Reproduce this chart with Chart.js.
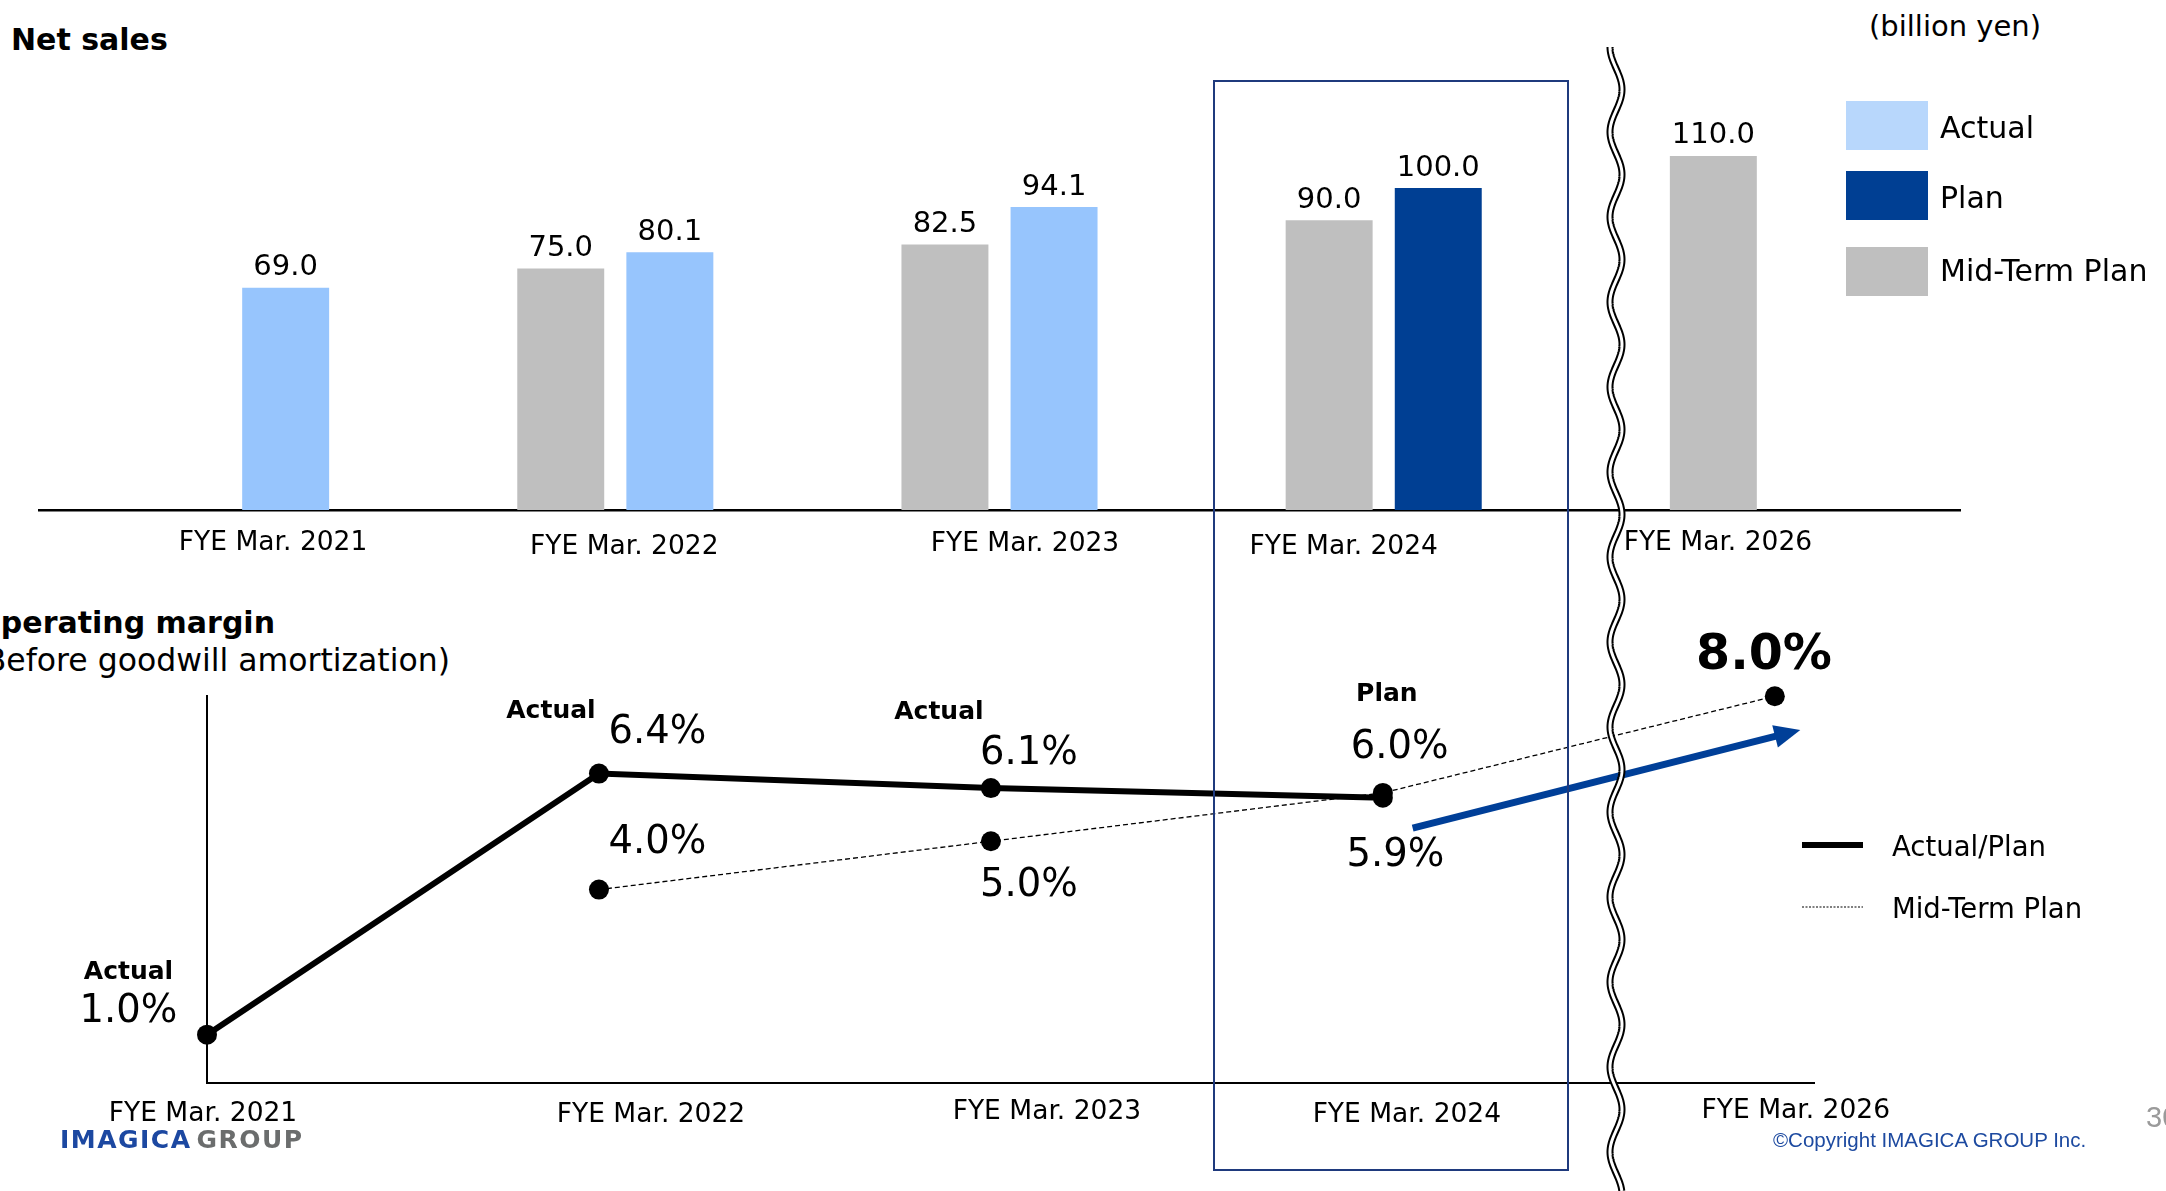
<!DOCTYPE html>
<html>
<head>
<meta charset="utf-8">
<title>Net sales / Operating margin</title>
<script src="https://cdn.jsdelivr.net/npm/chart.js@4.4.0/dist/chart.umd.min.js"></script>
<style>
  html, body { margin: 0; padding: 0; background: #fff; }
  #page { position: relative; width: 2166px; height: 1191px; overflow: hidden; background: #fff;
          font-family: "DejaVu Sans", Verdana, sans-serif; color: #000; }
  #page canvas { position: absolute; left: 0; }
  #salesChart { top: 0; }
  #marginChart { top: 560px; }
  #overlay { top: 0; pointer-events: none; }
  .txt { position: absolute; white-space: nowrap; line-height: 1; transform: translateY(-50%); }
  .bold { font-weight: bold; }
  #focusBox { position: absolute; left: 1213px; top: 80px; width: 356px; height: 1091px;
              border: 2px solid #1f3a7d; box-sizing: border-box; pointer-events: none; }
  .logo { font-weight: bold; font-size: 25px; letter-spacing: 1.5px; }
  .copy { font-family: "Liberation Sans", Arial, sans-serif; font-size: 20.5px; color: #1d4aa0; }
  .pageNo { font-family: "Liberation Sans", Arial, sans-serif; font-size: 29px; color: #9a9a9a; }
</style>
</head>
<body>
<div id="page">
  <div class="txt bold" style="left:11px; top:40px; font-size:30px;">Net sales</div>
  <div class="txt" style="left:1869px; top:26px; font-size:29px;">(billion yen)</div>
  <div class="txt bold" style="right:1891px; top:623px; font-size:30px;">Operating margin</div>
  <div class="txt" style="right:1716px; top:661px; font-size:31.5px;">(Before goodwill amortization)</div>

  <canvas id="salesChart" width="2166" height="560"></canvas>
  <canvas id="marginChart" width="2166" height="631"></canvas>
  <canvas id="overlay" width="2166" height="1191"></canvas>
  <div id="focusBox"></div>

  <div class="txt logo" style="left:60px; top:1139px;"><span style="color:#1c48a1;">IMAGICA</span><span style="color:#6b6d6d; margin-left:5px;">GROUP</span></div>
  <div class="txt copy" style="left:1773px; top:1140px;">©Copyright IMAGICA GROUP Inc.</div>
  <div class="txt pageNo" style="left:2146px; top:1117px;">30</div>
</div>

<script>
// Fiscal years shown on both charts
const categories = ['FYE Mar. 2021', 'FYE Mar. 2022', 'FYE Mar. 2023', 'FYE Mar. 2024', 'FYE Mar. 2026'];

// Net sales (billion yen)
const salesMidTerm = [null, 75.0, 82.5, 90.0, 110.0];
const salesResult = [69.0, 80.1, 94.1, 100.0, null];
const salesResultKind = ['Actual', 'Actual', 'Actual', 'Plan', null];

// Operating margin before goodwill amortization (%)
const marginResult = [1.0, 6.4, 6.1, 5.9];
const marginResultKind = ['Actual', 'Actual', 'Actual', 'Plan'];
const marginMidTerm = [null, 4.0, 5.0, 6.0, 8.0];

const ACTUAL_BLUE = '#97c5fd';
const ACTUAL_LEGEND = '#b8d7fc';
const PLAN_BLUE = '#003f93';
const GREY = '#bfbfbf';
const ARROW_BLUE = '#003f98';
const FONT = '"DejaVu Sans"';

Chart.defaults.font.family = 'DejaVu Sans';

// label nudges in px: [dx, dy] from tick position / point
const salesTickShift = [[42, 33], [9, 37], [25.5, 34.5], [-40, 37], [-50, 33]];
const marginTickShift = [[-4, 31], [52, 32], [56, 29], [24, 32], [21, 28]];
const resultLabelPos = [
  { head: [-78.5, -62], value: [-78.5, -22.5] },
  { head: [-48, -62], value: [58.5, -40.5] },
  { head: [-52, -76], value: [38, -34.5] },
  { head: [4, -103], value: [12.5, 58.5] }
];
const midTermLabelPos = [null, [58.5, -46.5], [38, 45], [16.7, -44.5], [-10.8, -40]];

// growth arrow towards the mid-term target, in chart units
const trendArrow = { from: [3.076, 5.27], to: [4.065, 7.30] };

function drawCategoryLabels(chart, shifts) {
  const ctx = chart.ctx;
  const xs = chart.scales.x;
  const base = chart.chartArea.bottom;
  ctx.save();
  ctx.font = '26.5px ' + FONT;
  ctx.fillStyle = '#000';
  ctx.textAlign = 'center';
  ctx.textBaseline = 'middle';
  categories.forEach((c, i) => {
    ctx.fillText(c, xs.getPixelForValue(i) + shifts[i][0], base + shifts[i][1]);
  });
  ctx.restore();
}

const salesDecor = {
  id: 'salesDecor',
  afterDatasetsDraw(chart) {
    const ctx = chart.ctx;
    ctx.save();
    ctx.font = '29px ' + FONT;
    ctx.fillStyle = '#000';
    ctx.textAlign = 'center';
    ctx.textBaseline = 'middle';
    chart.data.datasets.forEach((ds, i) => {
      chart.getDatasetMeta(i).data.forEach((bar, j) => {
        const v = ds.data[j];
        if (v == null) return;
        ctx.fillText(v.toFixed(1), bar.x, bar.y - 20);
      });
    });

    // legend
    const items = [
      { text: 'Actual', color: ACTUAL_LEGEND, top: 101, dy: 29 },
      { text: 'Plan', color: PLAN_BLUE, top: 171, dy: 29 },
      { text: 'Mid-Term Plan', color: GREY, top: 247, dy: 26 }
    ];
    ctx.textAlign = 'left';
    ctx.font = '30px ' + FONT;
    items.forEach(it => {
      ctx.fillStyle = it.color;
      ctx.fillRect(1846, it.top, 82, 49);
      ctx.fillStyle = '#000';
      ctx.fillText(it.text, 1940, it.top + it.dy);
    });
    ctx.restore();
    drawCategoryLabels(chart, salesTickShift);
  }
};

const marginDecor = {
  id: 'marginDecor',
  afterDatasetsDraw(chart) {
    const ctx = chart.ctx;
    const xs = chart.scales.x;
    const ys = chart.scales.y;

    // arrow
    const x1 = xs.getPixelForValue(trendArrow.from[0]);
    const y1 = ys.getPixelForValue(trendArrow.from[1]);
    const x2 = xs.getPixelForValue(trendArrow.to[0]);
    const y2 = ys.getPixelForValue(trendArrow.to[1]);
    const ang = Math.atan2(y2 - y1, x2 - x1);
    const headLen = 26, headHalf = 11.5;
    const bx = x2 - headLen * Math.cos(ang);
    const by = y2 - headLen * Math.sin(ang);
    ctx.save();
    ctx.strokeStyle = ARROW_BLUE;
    ctx.fillStyle = ARROW_BLUE;
    ctx.lineWidth = 7;
    ctx.beginPath();
    ctx.moveTo(x1, y1);
    ctx.lineTo(bx + 2 * Math.cos(ang), by + 2 * Math.sin(ang));
    ctx.stroke();
    ctx.beginPath();
    ctx.moveTo(x2, y2);
    ctx.lineTo(bx + headHalf * Math.sin(ang), by - headHalf * Math.cos(ang));
    ctx.lineTo(bx - headHalf * Math.sin(ang), by + headHalf * Math.cos(ang));
    ctx.closePath();
    ctx.fill();
    ctx.restore();

    // point labels
    const res = chart.getDatasetMeta(0).data;
    const mid = chart.getDatasetMeta(1).data;
    ctx.save();
    ctx.fillStyle = '#000';
    ctx.textAlign = 'center';
    ctx.textBaseline = 'middle';
    marginResult.forEach((v, i) => {
      const p = res[i];
      const pos = resultLabelPos[i];
      ctx.font = 'bold 25px ' + FONT;
      ctx.fillText(marginResultKind[i], p.x + pos.head[0], p.y + pos.head[1]);
      ctx.font = '38.5px ' + FONT;
      ctx.fillText(v.toFixed(1) + '%', p.x + pos.value[0], p.y + pos.value[1]);
    });
    marginMidTerm.forEach((v, i) => {
      if (v == null) return;
      const p = mid[i];
      const off = midTermLabelPos[i];
      const last = i === marginMidTerm.length - 1;
      ctx.font = (last ? 'bold 49px ' : '38.5px ') + FONT;
      ctx.fillText(v.toFixed(1) + '%', p.x + off[0], p.y + off[1]);
    });

    // legend
    const sets = chart.data.datasets;
    const rows = [285, 347];
    ctx.textAlign = 'left';
    ctx.font = '27.5px ' + FONT;
    sets.forEach((ds, i) => {
      ctx.save();
      ctx.strokeStyle = ds.borderColor;
      ctx.lineWidth = i === 0 ? 6 : 1.2;
      ctx.setLineDash(i === 0 ? [] : [2, 1.5]);
      ctx.beginPath();
      ctx.moveTo(1802, rows[i]);
      ctx.lineTo(1863, rows[i]);
      ctx.stroke();
      ctx.restore();
      ctx.fillText(ds.label, 1892, rows[i] + 4);
    });
    ctx.restore();
    drawCategoryLabels(chart, marginTickShift);
  }
};

new Chart(document.getElementById('salesChart'), {
  type: 'bar',
  data: {
    labels: categories,
    datasets: [
      { label: 'Mid-Term Plan', data: salesMidTerm, backgroundColor: GREY,
        categoryPercentage: 0.568, barPercentage: 0.797 },
      { label: 'Actual/Plan', data: salesResult,
        backgroundColor: salesResultKind.map(k => k === 'Plan' ? PLAN_BLUE : ACTUAL_BLUE),
        categoryPercentage: 0.568, barPercentage: 0.797 }
    ]
  },
  options: {
    responsive: false,
    animation: false,
    devicePixelRatio: 1,
    layout: { padding: { left: 39, right: 206, top: 91.5, bottom: 50 } },
    plugins: { legend: { display: false }, tooltip: { enabled: false } },
    scales: {
      x: {
        grid: { display: false, drawTicks: false },
        ticks: { display: false },
        border: { display: true, color: '#000', width: 2.5 }
      },
      y: { display: false, min: 0, max: 130 }
    }
  },
  plugins: [salesDecor]
});

new Chart(document.getElementById('marginChart'), {
  type: 'line',
  data: {
    datasets: [
      { label: 'Actual/Plan', data: marginResult.map((v, i) => ({ x: i, y: v })),
        borderColor: '#000', backgroundColor: '#000', borderWidth: 6,
        pointRadius: 10, pointBorderWidth: 0, pointBackgroundColor: '#000',
        tension: 0, clip: false },
      { label: 'Mid-Term Plan', data: marginMidTerm.map((v, i) => ({ x: i, y: v })),
        borderColor: '#000', backgroundColor: '#000', borderWidth: 1.3, borderDash: [5, 3],
        pointRadius: 10, pointBorderWidth: 0, pointBackgroundColor: '#000',
        tension: 0, clip: false }
    ]
  },
  options: {
    responsive: false,
    animation: false,
    devicePixelRatio: 1,
    layout: { padding: { left: 207, right: 352, top: 136.2, bottom: 108 } },
    plugins: { legend: { display: false }, tooltip: { enabled: false } },
    scales: {
      x: {
        type: 'linear', min: 0, max: 4.1,
        grid: { display: false, drawTicks: false },
        ticks: { display: false },
        border: { display: true, color: '#000', width: 2 }
      },
      y: {
        min: 0, max: 8,
        grid: { display: false, drawTicks: false },
        ticks: { display: false },
        border: { display: true, color: '#000', width: 2 }
      }
    }
  },
  plugins: [marginDecor]
});

// wavy double break line between FYE 2024 and FYE 2026
(function drawBreakMark() {
  const ctx = document.getElementById('overlay').getContext('2d');
  const path = new Path2D();
  for (let y = 47; y <= 1191; y++) {
    const x = 1616 - 6 * Math.cos(2 * Math.PI * (y - 47) / 85);
    if (y === 47) path.moveTo(x, y); else path.lineTo(x, y);
  }
  ctx.lineWidth = 7;
  ctx.strokeStyle = '#000';
  ctx.stroke(path);
  ctx.lineWidth = 3;
  ctx.strokeStyle = '#fff';
  ctx.stroke(path);
})();
</script>
</body>
</html>
